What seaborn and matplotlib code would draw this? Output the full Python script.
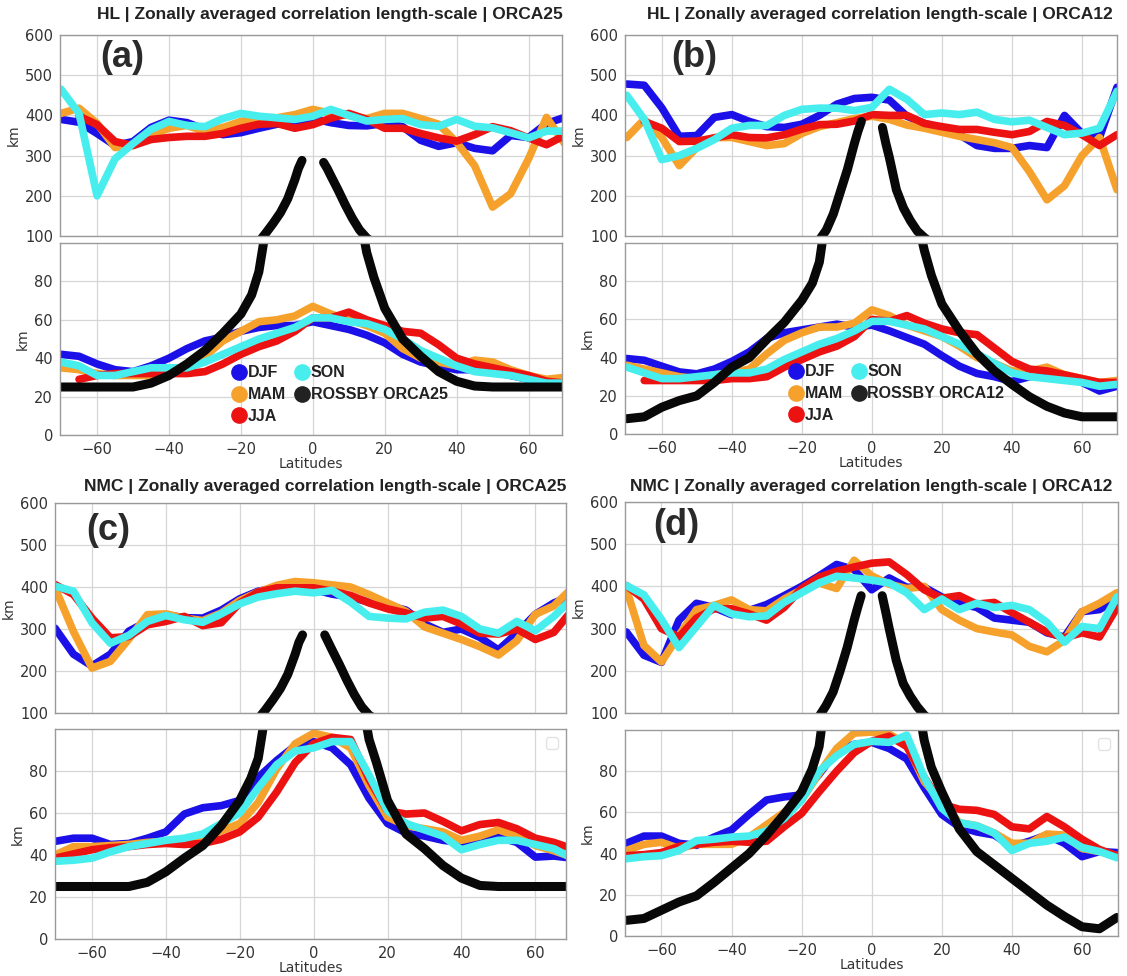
import numpy as np
import pandas as pd
import matplotlib
matplotlib.use("Agg")
import matplotlib.pyplot as plt
import seaborn as sns
from matplotlib.lines import Line2D

sns.set_theme(style="whitegrid")
plt.rcParams["font.family"] = ["DejaVu Sans"]
nan = np.nan

# ---------------- data ----------------
lat = [-70, -65, -60, -55, -50, -45, -40, -35, -30, -25, -20, -15, -10, -5, 0,
       5, 10, 15, 20, 25, 30, 35, 40, 45, 50, 55, 60, 65, 70]
seasons = ["DJF", "MAM", "JJA", "SON"]

# (a) HL ORCA25
a_djf_up = [390, 383, 355, 325, 335, 370, 388, 382, 365, 352, 357, 368, 378, 386, 392, 382, 375, 374, 380, 372, 338, 323, 332, 318, 312, 350, 345, 380, 395]
a_mam_up = [405, 418, 380, 320, 325, 350, 368, 375, 360, 370, 385, 395, 394, 402, 415, 405, 400, 392, 405, 405, 392, 378, 333, 275, 172, 205, 292, 395, 330]
a_jja_up = [nan, 398, 377, 335, 325, 340, 345, 348, 348, 355, 368, 378, 380, 368, 377, 393, 405, 390, 368, 368, 355, 344, 336, 352, 372, 362, 344, 327, 350]
a_son_up = [465, 405, 200, 292, 330, 365, 385, 375, 372, 392, 405, 398, 394, 390, 398, 415, 400, 386, 390, 392, 377, 373, 390, 373, 369, 357, 344, 361, 361]
a_djf_lo = [42, 41, 37, 34, 33, 36, 40, 45, 49, 51, 54, 56, 57, 57, 59, 57, 55, 52, 48, 42, 38, 36, 34, 34, 33, 31, 29, 28, 28]
a_mam_lo = [35, 34, 32, 31, 31, 31, 33, 35, 41, 49, 54, 59, 60, 62, 67, 63, 60, 57, 53, 45, 40, 38, 36, 39, 38, 34, 31, 29, 30]
a_jja_lo = [nan, 29, 31, 32, 32, 32, 32, 32, 33, 37, 42, 46, 49, 54, 61, 61, 64, 60, 57, 54, 53, 47, 40, 37, 35, 33, 31, 28, 27]
a_son_lo = [38, 36, 31, 31, 33, 35, 35, 35, 38, 42, 46, 50, 53, 56, 61, 61, 59, 58, 55, 50, 44, 40, 36, 33, 32, 31, 29, 27, 27]

# (b) HL ORCA12
b_djf_up = [478, 475, 419, 348, 350, 395, 402, 385, 372, 370, 378, 400, 428, 442, 445, 438, 398, 380, 368, 352, 325, 318, 318, 325, 320, 400, 355, 345, 470]
b_mam_up = [345, 390, 345, 275, 320, 345, 345, 335, 325, 330, 355, 372, 382, 392, 398, 390, 376, 368, 358, 348, 340, 332, 320, 260, 190, 225, 300, 345, 215]
b_jja_up = [nan, 385, 368, 335, 336, 344, 352, 345, 344, 352, 366, 377, 378, 386, 402, 400, 400, 380, 372, 365, 365, 358, 352, 360, 385, 375, 352, 325, 352]
b_son_up = [450, 390, 290, 300, 318, 340, 368, 375, 375, 400, 415, 418, 418, 412, 420, 465, 440, 402, 406, 402, 408, 390, 384, 388, 370, 352, 356, 368, 460]
b_djf_lo = [39.5, 38.6, 35.5, 32.5, 31.5, 34, 38, 43, 50, 53, 54.5, 56, 57.5, 56, 57, 54, 50.5, 47, 41, 35.5, 31.7, 30, 27.5, 30, 31.5, 30, 27, 22.5, 25]
b_mam_lo = [36, 34, 32, 30, 29, 31, 32, 34, 42, 49, 53, 56, 56, 58, 65, 62, 57, 54, 51, 46, 40, 37, 33, 33, 35, 31, 29, 27, 28]
b_jja_lo = [nan, 28, 28, 28, 28, 28, 29, 29, 30, 35, 39, 43, 46, 51, 60, 59, 62, 58, 55, 53, 52, 45, 38, 34, 33, 31, 29, 27, 27]
b_son_lo = [35, 32, 29, 29, 30, 31, 32, 32, 34, 39, 43, 47, 50, 54, 59, 59, 57, 55, 51, 47, 42, 37, 32, 30, 29, 28, 27, 25, 26]

# (c) NMC ORCA25
c_djf_up = [302, 240, 212, 240, 295, 318, 334, 327, 326, 345, 372, 390, 398, 402, 394, 383, 376, 364, 356, 345, 312, 292, 300, 280, 250, 290, 335, 362, 380]
c_mam_up = [398, 294, 207, 223, 276, 334, 336, 326, 320, 338, 368, 388, 404, 413, 410, 405, 400, 382, 362, 342, 305, 290, 275, 258, 238, 272, 335, 355, 398]
c_jja_up = [406, 382, 326, 279, 282, 310, 318, 330, 308, 315, 362, 388, 398, 398, 398, 390, 380, 362, 348, 338, 326, 330, 312, 290, 288, 300, 275, 292, 345]
c_son_up = [402, 390, 315, 266, 285, 318, 332, 322, 316, 336, 360, 376, 384, 390, 386, 392, 364, 330, 326, 324, 340, 345, 330, 300, 290, 318, 296, 330, 372]
c_djf_lo = [46.5, 48, 48, 45, 45.5, 48, 51, 59.5, 62.5, 63.5, 66, 77, 85, 92, 94, 91, 83, 67, 55, 50.5, 49, 47, 46, 48, 48.5, 46, 39, 39.5, 38.5]
c_mam_lo = [40, 44, 44, 44.5, 45, 46, 46.5, 47, 48, 51.5, 55, 65, 81, 93, 98, 96, 91, 73, 58, 54, 52.5, 51, 47, 49, 52, 49, 44.5, 42, 39]
c_jja_lo = [38.5, 40.5, 42.5, 43.5, 44, 45, 45.5, 45, 45.5, 47.5, 51, 58, 70, 84, 93, 96, 95, 76, 61, 59.5, 60, 56, 51.5, 54.5, 55.5, 52.5, 48, 46, 43]
c_son_lo = [37, 37.5, 38.5, 41.5, 44, 45.5, 47, 48, 50, 55, 60, 72, 83, 89.5, 91, 94, 94, 78, 61, 55, 52, 49, 42.5, 45, 47, 47, 45, 43, 38.5]

# (d) NMC ORCA12
d_djf_up = [292, 237, 220, 320, 360, 350, 333, 343, 357, 378, 400, 425, 452, 440, 392, 420, 398, 398, 375, 360, 350, 325, 320, 315, 290, 280, 340, 345, 370]
d_mam_up = [394, 260, 221, 284, 345, 355, 368, 345, 342, 370, 392, 408, 395, 462, 425, 405, 395, 400, 345, 320, 300, 292, 285, 258, 245, 272, 340, 360, 385]
d_jja_up = [402, 370, 300, 280, 325, 347, 347, 335, 320, 350, 395, 422, 436, 446, 455, 458, 428, 392, 372, 378, 358, 362, 338, 315, 292, 278, 290, 280, 350]
d_son_up = [402, 380, 322, 255, 305, 355, 335, 328, 330, 362, 385, 408, 424, 420, 415, 408, 385, 345, 370, 345, 360, 350, 355, 345, 315, 268, 305, 300, 375]
d_djf_lo = [45, 48.5, 48.5, 45, 44, 48, 51.5, 59, 66, 67.5, 68.5, 78.5, 90, 93, 94, 91, 86, 72, 59, 53, 50.5, 49, 43.5, 46, 49, 45, 38.5, 41, 40.5]
d_mam_lo = [41.5, 44.5, 45.5, 42.5, 44.5, 44.5, 44.5, 48, 54, 60, 66, 79, 91, 98.5, 99, 98, 93, 75, 65, 55, 53.5, 50, 45, 45, 49.5, 49, 42.5, 41, 39]
d_jja_lo = [39, 39.5, 40.5, 43.5, 44.5, 45.5, 46, 45.5, 46, 53, 59.5, 70, 80, 89, 94.5, 97, 92, 77, 64, 61.5, 61, 59, 53, 52, 58, 53, 47, 42, 39]
d_son_lo = [37.5, 38.5, 39, 41.5, 46.3, 47, 48, 48.5, 51, 57, 66, 80, 87.5, 93, 94.5, 94, 97.5, 77, 62, 55, 53.5, 50, 41.5, 45, 46, 48, 43, 41, 38]

# Rossby radius curves (gap at the equator)
lat_ross = [-70, -65, -60, -55, -50, -45, -40, -35, -30, -25, -20, -17, -15, -13, -11, -9, -7, -5, -4, -3, 0,
            3, 4, 5, 7, 9, 11, 13, 15, 17, 20, 25, 30, 35, 40, 45, 50, 55, 60, 65, 70]
ross_a = [25, 25, 25, 25, 25, 27, 31, 37, 44, 53, 63, 73, 85, 108, 132, 158, 192, 240, 268, 288, nan,
          283, 268, 250, 215, 178, 144, 115, 95, 82, 66, 50, 41, 33, 28, 25.5, 25, 25, 25, 25, 25]
ross_b = [8, 9, 14, 17.5, 20, 27, 35, 40, 49.5, 58.5, 70, 79, 90, 115, 155, 210, 265, 330, 360, 385, nan,
          370, 330, 295, 215, 170, 138, 112, 96, 83, 68, 54, 42, 33, 26, 19.5, 14.5, 11, 9, 9, 9]
ross_c = [25, 25, 25, 25, 25, 27, 32, 38.5, 44.5, 54, 66, 76.5, 86, 108, 132, 158, 192, 240, 268, 286, nan,
          286, 268, 250, 215, 178, 144, 115, 95, 84, 66, 50, 43, 35, 29, 25.5, 25, 25, 25, 25, 25]
ross_d = [7.6, 8.5, 12.5, 16.5, 19.5, 26, 33, 40, 49, 59, 70, 81, 92, 118, 150, 200, 255, 320, 350, 378, nan,
          378, 340, 300, 225, 170, 140, 115, 95, 82, 70, 52, 41, 34.5, 28, 21.5, 15, 9.5, 4.5, 3.5, 9]

titles = ["HL | Zonally averaged correlation length-scale | ORCA25",
          "HL | Zonally averaged correlation length-scale | ORCA12",
          "NMC | Zonally averaged correlation length-scale | ORCA25",
          "NMC | Zonally averaged correlation length-scale | ORCA12"]
panel_tags = ["(a)", "(b)", "(c)", "(d)"]
rossby_labels = ["ROSSBY ORCA25", "ROSSBY ORCA12", None, None]

panels = [
    dict(up=[a_djf_up, a_mam_up, a_jja_up, a_son_up], lo=[a_djf_lo, a_mam_lo, a_jja_lo, a_son_lo], ross=ross_a),
    dict(up=[b_djf_up, b_mam_up, b_jja_up, b_son_up], lo=[b_djf_lo, b_mam_lo, b_jja_lo, b_son_lo], ross=ross_b),
    dict(up=[c_djf_up, c_mam_up, c_jja_up, c_son_up], lo=[c_djf_lo, c_mam_lo, c_jja_lo, c_son_lo], ross=ross_c),
    dict(up=[d_djf_up, d_mam_up, d_jja_up, d_son_up], lo=[d_djf_lo, d_mam_lo, d_jja_lo, d_son_lo], ross=ross_d),
]

# ---------------- layout ----------------
W, H = 1127, 976
fig = plt.figure(figsize=(W / 100, H / 100), dpi=100)
palette = {"DJF": "#1c10e8", "MAM": "#f5a12c", "JJA": "#ec1212", "SON": "#48eeee"}
BLACK = "#080808"
SANS = ["Liberation Sans", "DejaVu Sans"]

def rect(x0, x1, yt, yb):
    return [x0 / W, 1 - yb / H, (x1 - x0) / W, (yb - yt) / H]

# x0, x1, upper top, upper bottom, lower top, lower bottom, xlim
geo = [
    (60, 562, 35, 236, 243, 435, (-70.3, 69.3)),
    (625, 1117, 35, 236, 243, 434, (-70.5, 70.0)),
    (55, 566, 503, 713, 729, 939, (-70.0, 68.3)),
    (625, 1118, 502, 713, 730, 936, (-70.4, 70.3)),
]
title_pos = [(330, 14), (880, 14), (325, 486), (871, 486)]
tag_pos = [(0.124, 0.89), (0.14, 0.89), (0.105, 0.87), (0.105, 0.89)]
legend_anchor = [(0.318, 0.0), (0.308, 0.0), None, None]

def style(ax, xlim, ylim, yticks, bottom_labels):
    ax.set_xlim(*xlim)
    ax.set_ylim(*ylim)
    ax.set_xticks([-60, -40, -20, 0, 20, 40, 60])
    ax.set_yticks(yticks)
    ax.set_facecolor("white")
    ax.grid(True, color="#d6d6d6", lw=0.9)
    for s in ax.spines.values():
        s.set_color("#9a9a9a")
        s.set_linewidth(1.0)
    ax.tick_params(axis="both", labelsize=10.5, colors="#9a9a9a", labelcolor="#333333",
                   length=3, width=0.8, pad=2)
    ax.tick_params(axis="x", labelbottom=bottom_labels)
    ax.set_ylabel("km", fontsize=10, color="#333333", labelpad=3)
    ax.set_xlabel("")

for i, p in enumerate(panels):
    x0, x1, ut, ub, lt, lb, xlim = geo[i]
    ax_up = fig.add_axes(rect(x0, x1, ut, ub))
    ax_lo = fig.add_axes(rect(x0, x1, lt, lb))

    up_df = pd.DataFrame({"lat": lat * 4,
                          "km": sum(p["up"], []),
                          "season": np.repeat(seasons, len(lat))})
    lo_df = pd.DataFrame({"lat": lat * 4,
                          "km": sum(p["lo"], []),
                          "season": np.repeat(seasons, len(lat))})
    side = ["S" if v < 0 else "N" for v in lat_ross]
    ross_df = pd.DataFrame({"lat": lat_ross, "km": p["ross"], "side": side})

    for ax, df in ((ax_up, up_df), (ax_lo, lo_df)):
        sns.lineplot(data=df, x="lat", y="km", hue="season", hue_order=seasons,
                     palette=palette, estimator=None, sort=False, legend=False,
                     lw=5.5, solid_capstyle="round", solid_joinstyle="round", ax=ax)
        sns.lineplot(data=ross_df, x="lat", y="km", units="side", estimator=None,
                     sort=False, color=BLACK, lw=6.5, legend=False,
                     solid_capstyle="round", solid_joinstyle="round", ax=ax)

    style(ax_up, xlim, (100, 600), [100, 200, 300, 400, 500, 600], False)
    style(ax_lo, xlim, (0, 100), [0, 20, 40, 60, 80], True)
    ax_lo.set_xlabel("Latitudes", fontsize=10, color="#333333", labelpad=0)

    fig.text(title_pos[i][0] / W, 1 - title_pos[i][1] / H, titles[i],
             ha="center", va="center", fontsize=12.5, fontweight="bold",
             color="#222222", family=SANS)
    ax_up.text(tag_pos[i][0], tag_pos[i][1], panel_tags[i], transform=ax_up.transAxes,
               ha="center", va="center", fontsize=26, fontweight="bold",
               color="#2a2a2a", family=SANS)

    if rossby_labels[i]:
        handles = [Line2D([], [], marker="o", ls="", color=palette[s], markersize=11) for s in seasons]
        handles.append(Line2D([], [], marker="o", ls="", color="#222222", markersize=11))
        labels = seasons + [rossby_labels[i]]
        ax_lo.legend(handles, labels,
                     ncol=2, loc="lower left", bbox_to_anchor=legend_anchor[i],
                     frameon=False, handletextpad=0.05, columnspacing=0.5,
                     labelspacing=0.42, handlelength=1.0, borderpad=0.2,
                     prop={"weight": "bold", "size": 11.5, "family": SANS},
                     labelcolor="#222222")
    else:
        leg = ax_lo.legend(handles=[], loc="upper right", frameon=True)
        leg.get_frame().set_edgecolor("#dddddd")

fig.savefig("out.png", dpi=100)
